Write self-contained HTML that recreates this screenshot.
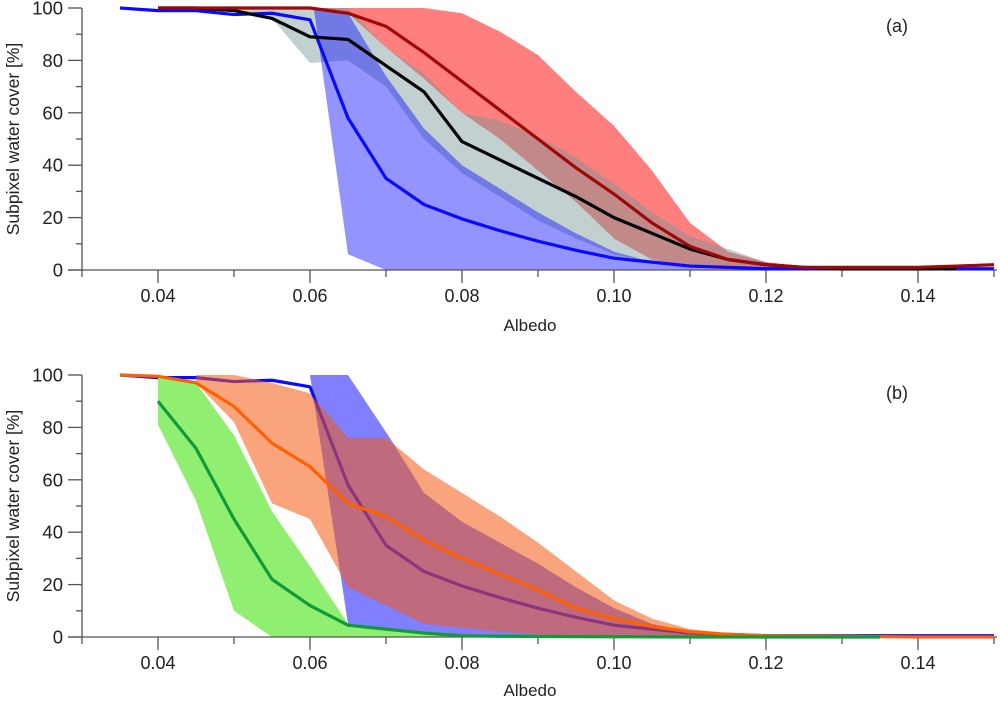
<!DOCTYPE html>
<html><head><meta charset="utf-8"><style>
body{margin:0;background:#fff;}
svg{display:block;font-family:"Liberation Sans",Arial,sans-serif;}
</style></head><body>
<svg id="chart" width="1000" height="703" viewBox="0 0 1000 703" xmlns="http://www.w3.org/2000/svg"></svg>
<script>
// ---- data: panel (a)
const xA = [0.035,0.04,0.045,0.05,0.055,0.06,0.065,0.07,0.075,0.08,0.085,0.09,0.095,0.10,0.105,0.11,0.115,0.12,0.125,0.13,0.135,0.14,0.145,0.15];
const blueLineA = [100,99,99,97.5,98,95.5,58,35,25,19.5,15,11,7.5,4.5,3,1.5,1,0.5,0.5,0.5,0.5,0.5,0.5,0.5];
const blackX = [0.04,0.045,0.05,0.055,0.06,0.065,0.07,0.075,0.08,0.085,0.09,0.095,0.10,0.105,0.11,0.115,0.12,0.125,0.13,0.135,0.14,0.145];
const blackLine = [100,100,99,96,89,88,78,68,49,42,35,28,20,14,8,4,2,1,0.5,0.5,0.5,0.5];
const redX = [0.04,0.045,0.05,0.055,0.06,0.065,0.07,0.075,0.08,0.085,0.09,0.095,0.10,0.105,0.11,0.115,0.12,0.125,0.13,0.135,0.14,0.145,0.15];
const redLine = [100,100,100,100,100,98,93,83,72,61,50,39,29,18,9,4,2,1,1,1,1,1.5,2];
const bandX = [0.06,0.065,0.07,0.075,0.08,0.085,0.09,0.095,0.10,0.105,0.11,0.115,0.12,0.125,0.13];
const redUpper = [100,100,100,100,98,91,82,68,55,38,18,7,3,1.5,1];
const redLower = [100,98,85,73,60,50,38,26,12,4,1,0,0,0,0];
const grayX = [0.05,0.055,0.06,0.065,0.07,0.075,0.08,0.085,0.09,0.095,0.10,0.105,0.11,0.115,0.12,0.125,0.13];
const grayUpper = [100,100,100,100,85,75,60,57,51,43,33,22,13,8,3,1,0.5];
const grayLower = [99,96,79,80,70,50,37,28,19,12,6,3,1,0.5,0,0,0];
const blueBandAX = [0.0605,0.0615,0.065,0.07,0.075,0.08,0.085,0.09,0.095,0.10,0.105,0.11,0.115];
const blueUpperA = [100,100,98,74,54,40,31,22,14,7,3,1,0];
const blueLowerA = [100,79,6,0,0,0,0,0,0,0,0,0,0];
// ---- data: panel (b)
const blueBX = [0.035,0.04,0.045,0.05,0.055,0.06,0.065,0.07,0.075,0.08,0.085,0.09,0.095,0.10,0.105,0.11,0.115,0.12,0.125,0.13,0.135,0.14,0.145,0.15];
const blueLineB = [100,99,99,97.5,98,95.5,58,35,25,19.5,15,11,7.5,4.5,3,1.5,1,0.5,0.5,0.5,0.5,0.5,0.5,0.5];
const blueBandBX = [0.06,0.065,0.0705,0.075,0.08,0.085,0.09,0.095,0.10,0.105,0.11,0.115];
const blueUpperB = [100,100,76,55,44,36,28,19,11,5,2,0.5];
const blueLowerB = [100,5,1,0,0,0,0,0,0,0,0,0];
const orangeBandX = [0.045,0.05,0.055,0.06,0.065,0.07,0.075,0.08,0.085,0.09,0.095,0.10,0.105,0.11,0.115,0.12,0.13];
const orangeUpper = [100,100,97,93,76,76,64,55,46,36,25,14,7,3,1.5,1,0.5];
const orangeLower = [97,82,51,45,19,12,5,3.5,2,1,0.5,0,0,0,0,0,0];
const orangeX = [0.035,0.04,0.045,0.05,0.055,0.06,0.065,0.07,0.075,0.08,0.085,0.09,0.095,0.10,0.105,0.11,0.115,0.12,0.13,0.14,0.15];
const orangeLine = [100,99.5,97,88,74,65,51,46,37,30,24,18,11,7,4,2,1,0.5,0.3,0,0];
const greenBandX = [0.04,0.045,0.05,0.055,0.06,0.065,0.07,0.075,0.08];
const greenUpper = [99,97,77,48,27,5,3,1.5,0];
const greenLower = [81,52,10,0,0,0,0,0,0];
const greenX = [0.04,0.045,0.05,0.055,0.06,0.065,0.07,0.075,0.08,0.085,0.09,0.10,0.11,0.12,0.135];
const greenLine = [90,72,45,22,12,4.5,3,1.5,0.5,0.3,0.2,0.1,0,0,0];
const xTickLabels = ["0.04","0.06","0.08","0.10","0.12","0.14"];
const yTickLabels = ["0","20","40","60","80","100"];

const svg = document.getElementById('chart');
const NS = 'http://www.w3.org/2000/svg';
function mk(tag, attrs, parent){const e=document.createElementNS(NS,tag);for(const k in attrs)e.setAttribute(k,attrs[k]);(parent||svg).appendChild(e);return e;}
const sx = v => 158 + (v-0.04)*7600;

function panel(top, bottom, name){
  const g = mk('g',{});
  
  
  const sy = v => bottom - v*(bottom-top)/100;
  const line=(xs,ys,color,nm,par)=>{const p=mk('polyline',{points:xs.map((x,i)=>sx(x)+','+sy(ys[i])).join(' '),fill:'none',stroke:color,'stroke-width':3.2,'stroke-linejoin':'round'},par);
    
    return p;};
  const band=(xs,up,lo,color,nm,par)=>{const pts=xs.map((x,i)=>sx(x)+','+sy(up[i])).concat(xs.map((x,i)=>sx(x)+','+sy(lo[i])).reverse());
    const p=mk('polygon',{points:pts.join(' '),fill:color},par);
    
    return p;};
  return {g,sy,line,band};
}
function axes(P, top, bottom, xtitleY, lab){
  const {g,sy}=P;
  const ax=mk('g',{stroke:'#555','stroke-width':1.3},g);
  
  
  mk('line',{x1:68,x2:997,y1:bottom,y2:bottom},ax);
  mk('line',{x1:82,x2:82,y1:top,y2:bottom},ax);
  for(let i=0;i<=12;i++){const x=sx(0.03+i*0.01);if(x>998)break;mk('line',{x1:x,x2:x,y1:bottom,y2:bottom+(i%2?13:7)},ax);}
  for(let v=0;v<=100;v+=10){mk('line',{x1:v%20?76:68,x2:82,y1:sy(v),y2:sy(v)},ax);}
  xTickLabels.forEach((t,i)=>{const tx=mk('text',{x:sx(0.04+i*0.02),y:bottom+32,'text-anchor':'middle','font-size':18,fill:'#222'},g);tx.textContent=t;
    
    });
  yTickLabels.forEach((t,i)=>{const tx=mk('text',{x:63,y:sy(i*20)+6.5,'text-anchor':'end','font-size':18.5,fill:'#222'},g);tx.textContent=t;
    
    });
  const xt=mk('text',{x:530,y:xtitleY,'text-anchor':'middle','font-size':17,fill:'#222'},g);xt.textContent='Albedo';
  
  
  const cy=(top+bottom)/2;
  const yt=mk('text',{x:0,y:0,transform:`translate(19,${cy}) rotate(-90)`,'text-anchor':'middle','font-size':17.5,fill:'#222'},g);yt.textContent='Subpixel water cover [%]';
  
  
  const pl=mk('text',{x:897,y:top+24,'text-anchor':'middle','font-size':18,fill:'#222'},g);pl.textContent=lab;
  
  
}
// Panel a
const A = panel(8,270,'panel-a');
A.band(bandX,redUpper,redLower,'rgba(255,0,0,0.5)','red-band',A.g);
A.band(grayX,grayUpper,grayLower,'rgba(120,150,150,0.45)','gray-band',A.g);
A.band(blueBandAX,blueUpperA,blueLowerA,'rgba(0,0,255,0.42)','blue-band',A.g);
axes(A,8,270,331,'(a)');
A.line(xA,blueLineA,'#0a0aff','blue-line',A.g);
A.line(blackX,blackLine,'#000','black-line',A.g);
A.line(redX,redLine,'#a00808','red-line',A.g);
// Panel b
const B = panel(375,637,'panel-b');
B.band(blueBandBX,blueUpperB,blueLowerB,'rgba(0,0,255,0.5)','blue-band',B.g);
B.line(blueBX,blueLineB,'#0a0aff','blue-line',B.g);
B.band(orangeBandX,orangeUpper,orangeLower,'rgba(245,90,20,0.55)','orange-band',B.g);
B.band(greenBandX,greenUpper,greenLower,'rgb(144,238,112)','green-band',B.g);
axes(B,375,637,696,'(b)');
B.line(orangeX,orangeLine,'#ff6000','orange-line',B.g);
B.line(greenX,greenLine,'#109a38','green-line',B.g);
</script>
</body></html>
